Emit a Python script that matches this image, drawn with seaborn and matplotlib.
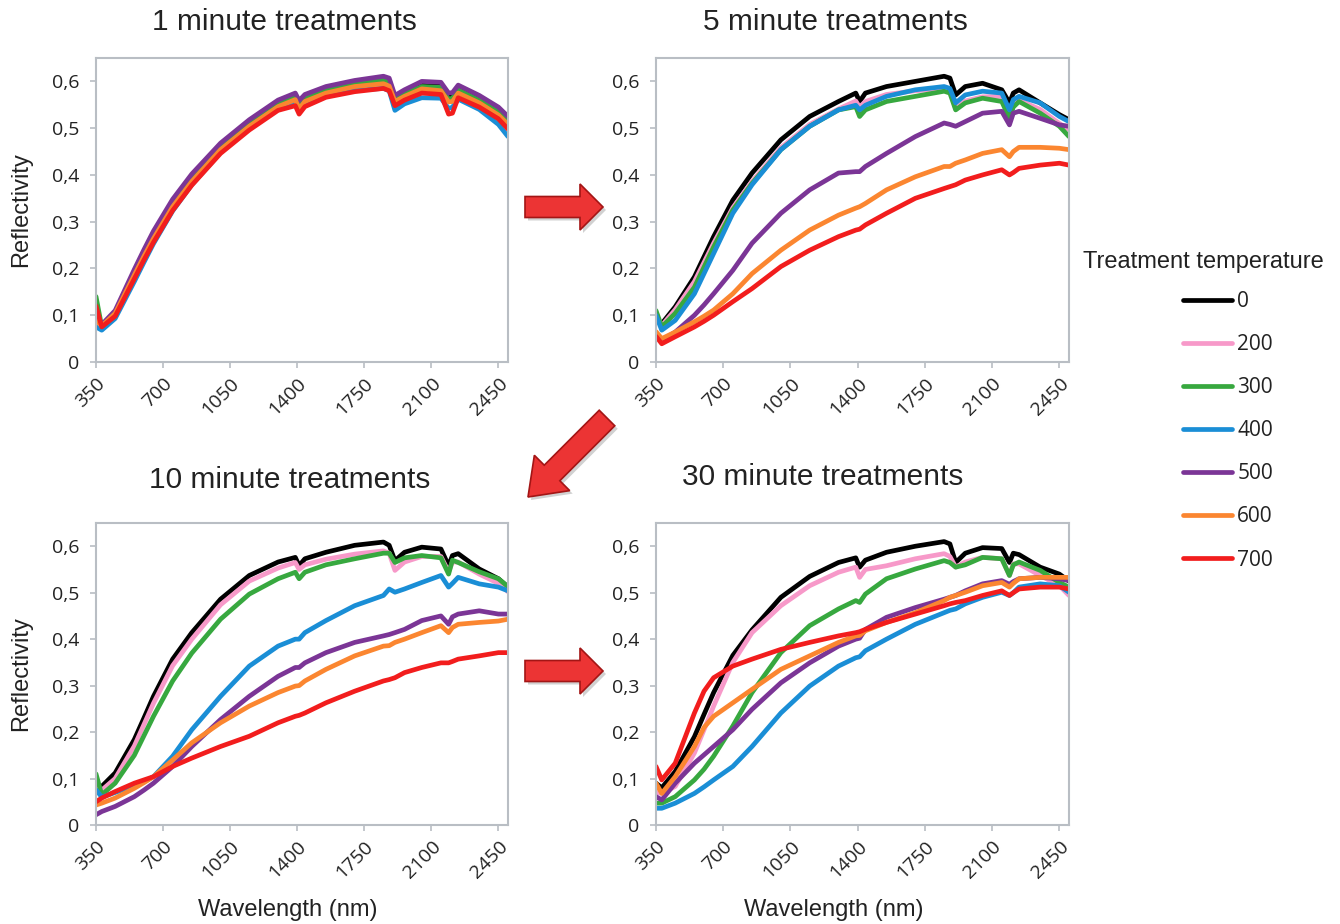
import numpy as np
import pandas as pd
import seaborn as sns
import matplotlib.pyplot as plt
from matplotlib.lines import Line2D
from matplotlib.patches import FancyArrow
from matplotlib.transforms import ScaledTranslation

# wavelength grid (nm) shared by all spectra
wavelength = [350, 380, 450, 550, 600, 650, 750, 850, 1000, 1150, 1300, 1390, 1410, 1440,
              1550, 1700, 1850, 1880, 1910, 1960, 2050, 2150, 2190, 2210, 2240, 2350, 2450, 2500]

temps = ['0', '200', '300', '400', '500', '600', '700']
colors = ['#000000', '#f799c9', '#37a83f', '#1a8ed6', '#7b3596', '#fb8630', '#f21d1d']

# 1 minute treatments
min1 = {
    '0':   [0.100, 0.075, 0.102, 0.190, 0.232, 0.272, 0.342, 0.396, 0.463, 0.513, 0.555, 0.570, 0.552, 0.567,
            0.585, 0.598, 0.607, 0.602, 0.565, 0.578, 0.594, 0.592, 0.568, 0.568, 0.585, 0.563, 0.536, 0.518],
    '200': [0.090, 0.074, 0.100, 0.186, 0.228, 0.267, 0.336, 0.390, 0.457, 0.507, 0.549, 0.563, 0.543, 0.559,
            0.578, 0.591, 0.598, 0.594, 0.560, 0.571, 0.585, 0.583, 0.558, 0.560, 0.578, 0.556, 0.530, 0.512],
    '300': [0.140, 0.075, 0.102, 0.190, 0.232, 0.272, 0.340, 0.394, 0.461, 0.511, 0.553, 0.568, 0.548, 0.564,
            0.583, 0.596, 0.603, 0.598, 0.562, 0.574, 0.589, 0.587, 0.562, 0.564, 0.582, 0.560, 0.535, 0.515],
    '400': [0.075, 0.068, 0.093, 0.172, 0.213, 0.253, 0.323, 0.379, 0.448, 0.499, 0.541, 0.556, 0.537, 0.551,
            0.569, 0.581, 0.585, 0.580, 0.538, 0.552, 0.565, 0.564, 0.542, 0.545, 0.562, 0.540, 0.508, 0.482],
    '500': [0.095, 0.080, 0.110, 0.198, 0.240, 0.280, 0.348, 0.402, 0.468, 0.518, 0.560, 0.575, 0.559, 0.572,
            0.589, 0.602, 0.611, 0.607, 0.570, 0.582, 0.600, 0.598, 0.575, 0.576, 0.592, 0.570, 0.545, 0.525],
    '600': [0.090, 0.077, 0.104, 0.186, 0.226, 0.264, 0.332, 0.386, 0.454, 0.504, 0.546, 0.561, 0.541, 0.557,
            0.575, 0.589, 0.595, 0.590, 0.557, 0.568, 0.584, 0.580, 0.556, 0.557, 0.575, 0.554, 0.528, 0.508],
    '700': [0.120, 0.075, 0.098, 0.178, 0.218, 0.256, 0.324, 0.378, 0.446, 0.496, 0.538, 0.548, 0.530, 0.546,
            0.566, 0.578, 0.585, 0.580, 0.548, 0.560, 0.575, 0.572, 0.530, 0.532, 0.565, 0.545, 0.520, 0.498],
}

# 5 minute treatments
min5 = {
    '0':   [0.090, 0.082, 0.118, 0.182, 0.225, 0.268, 0.346, 0.404, 0.475, 0.525, 0.557, 0.575, 0.557, 0.575,
            0.589, 0.600, 0.611, 0.607, 0.571, 0.589, 0.596, 0.582, 0.554, 0.575, 0.582, 0.554, 0.529, 0.518],
    '200': [0.100, 0.078, 0.112, 0.172, 0.213, 0.254, 0.330, 0.386, 0.458, 0.508, 0.541, 0.558, 0.545, 0.557,
            0.572, 0.580, 0.584, 0.580, 0.542, 0.558, 0.567, 0.568, 0.530, 0.553, 0.560, 0.540, 0.510, 0.497],
    '300': [0.110, 0.075, 0.104, 0.160, 0.203, 0.246, 0.325, 0.382, 0.454, 0.504, 0.539, 0.546, 0.525, 0.539,
            0.557, 0.568, 0.579, 0.575, 0.539, 0.554, 0.564, 0.557, 0.521, 0.545, 0.557, 0.532, 0.504, 0.482],
    '400': [0.100, 0.068, 0.089, 0.146, 0.189, 0.232, 0.318, 0.379, 0.454, 0.504, 0.539, 0.549, 0.539, 0.549,
            0.568, 0.582, 0.589, 0.585, 0.554, 0.571, 0.579, 0.575, 0.539, 0.561, 0.568, 0.554, 0.525, 0.514],
    '500': [0.060, 0.046, 0.064, 0.100, 0.122, 0.146, 0.196, 0.254, 0.318, 0.368, 0.404, 0.407, 0.407, 0.418,
            0.446, 0.482, 0.511, 0.508, 0.504, 0.514, 0.532, 0.536, 0.507, 0.532, 0.536, 0.521, 0.507, 0.504],
    '600': [0.065, 0.050, 0.064, 0.086, 0.098, 0.111, 0.146, 0.189, 0.239, 0.282, 0.314, 0.329, 0.332, 0.339,
            0.368, 0.396, 0.418, 0.418, 0.425, 0.432, 0.446, 0.454, 0.439, 0.450, 0.459, 0.459, 0.457, 0.454],
    '700': [0.055, 0.039, 0.054, 0.075, 0.087, 0.100, 0.129, 0.157, 0.204, 0.239, 0.268, 0.282, 0.284, 0.293,
            0.318, 0.350, 0.371, 0.375, 0.379, 0.389, 0.400, 0.411, 0.400, 0.405, 0.414, 0.421, 0.425, 0.421],
}

# 10 minute treatments
min10 = {
    '0':   [0.085, 0.083, 0.112, 0.184, 0.230, 0.277, 0.357, 0.414, 0.486, 0.537, 0.566, 0.576, 0.558, 0.573,
            0.587, 0.602, 0.609, 0.602, 0.569, 0.587, 0.598, 0.594, 0.558, 0.580, 0.584, 0.551, 0.530, 0.512],
    '200': [0.080, 0.075, 0.100, 0.170, 0.216, 0.262, 0.343, 0.400, 0.474, 0.525, 0.553, 0.565, 0.550, 0.560,
            0.572, 0.583, 0.590, 0.585, 0.548, 0.566, 0.578, 0.578, 0.545, 0.566, 0.566, 0.540, 0.520, 0.502],
    '300': [0.110, 0.065, 0.090, 0.150, 0.192, 0.234, 0.310, 0.370, 0.443, 0.497, 0.530, 0.544, 0.530, 0.544,
            0.560, 0.573, 0.585, 0.585, 0.565, 0.575, 0.580, 0.575, 0.540, 0.570, 0.565, 0.545, 0.530, 0.513],
    '400': [0.076, 0.060, 0.070, 0.085, 0.093, 0.104, 0.148, 0.205, 0.277, 0.342, 0.385, 0.400, 0.400, 0.414,
            0.440, 0.472, 0.494, 0.508, 0.501, 0.508, 0.522, 0.537, 0.512, 0.520, 0.533, 0.519, 0.512, 0.504],
    '500': [0.022, 0.029, 0.040, 0.061, 0.075, 0.090, 0.126, 0.169, 0.227, 0.277, 0.320, 0.339, 0.339, 0.349,
            0.371, 0.393, 0.407, 0.410, 0.414, 0.421, 0.440, 0.450, 0.432, 0.448, 0.454, 0.461, 0.454, 0.454],
    '600': [0.043, 0.047, 0.058, 0.079, 0.091, 0.104, 0.140, 0.177, 0.220, 0.256, 0.285, 0.299, 0.300, 0.310,
            0.335, 0.364, 0.385, 0.386, 0.393, 0.400, 0.414, 0.429, 0.414, 0.425, 0.432, 0.436, 0.439, 0.443],
    '700': [0.050, 0.058, 0.072, 0.090, 0.097, 0.104, 0.126, 0.144, 0.169, 0.191, 0.220, 0.234, 0.236, 0.241,
            0.263, 0.288, 0.310, 0.313, 0.317, 0.328, 0.339, 0.349, 0.349, 0.352, 0.357, 0.364, 0.371, 0.371],
}

# 30 minute treatments
min30 = {
    '0':   [0.090, 0.080, 0.115, 0.190, 0.238, 0.285, 0.365, 0.420, 0.490, 0.535, 0.565, 0.575, 0.555, 0.570,
            0.587, 0.600, 0.610, 0.605, 0.565, 0.585, 0.597, 0.595, 0.565, 0.585, 0.582, 0.555, 0.540, 0.525],
    '200': [0.070, 0.068, 0.083, 0.155, 0.205, 0.256, 0.350, 0.414, 0.472, 0.515, 0.544, 0.555, 0.533, 0.550,
            0.558, 0.573, 0.584, 0.578, 0.555, 0.566, 0.576, 0.573, 0.537, 0.562, 0.562, 0.537, 0.515, 0.494],
    '300': [0.047, 0.047, 0.061, 0.097, 0.120, 0.148, 0.213, 0.285, 0.371, 0.429, 0.465, 0.483, 0.479, 0.497,
            0.530, 0.551, 0.569, 0.565, 0.555, 0.560, 0.576, 0.573, 0.537, 0.560, 0.566, 0.548, 0.522, 0.512],
    '400': [0.036, 0.036, 0.047, 0.068, 0.082, 0.097, 0.126, 0.169, 0.241, 0.299, 0.342, 0.360, 0.362, 0.375,
            0.400, 0.432, 0.457, 0.462, 0.465, 0.476, 0.490, 0.501, 0.494, 0.500, 0.512, 0.519, 0.515, 0.501],
    '500': [0.061, 0.054, 0.090, 0.133, 0.151, 0.169, 0.205, 0.249, 0.306, 0.349, 0.385, 0.400, 0.402, 0.421,
            0.447, 0.468, 0.486, 0.490, 0.494, 0.504, 0.519, 0.526, 0.518, 0.524, 0.530, 0.533, 0.530, 0.526],
    '600': [0.090, 0.068, 0.104, 0.169, 0.210, 0.234, 0.263, 0.292, 0.335, 0.364, 0.393, 0.407, 0.408, 0.418,
            0.436, 0.457, 0.483, 0.490, 0.494, 0.501, 0.515, 0.522, 0.512, 0.520, 0.530, 0.533, 0.533, 0.533],
    '700': [0.126, 0.097, 0.133, 0.241, 0.288, 0.317, 0.342, 0.357, 0.378, 0.393, 0.407, 0.414, 0.416, 0.421,
            0.436, 0.454, 0.472, 0.476, 0.479, 0.483, 0.494, 0.504, 0.494, 0.500, 0.508, 0.512, 0.512, 0.508],
}

panels = [('1 minute treatments', min1), ('5 minute treatments', min5),
          ('10 minute treatments', min10), ('30 minute treatments', min30)]

x_ticks = [350, 700, 1050, 1400, 1750, 2100, 2450]
y_ticks = [0, 0.1, 0.2, 0.3, 0.4, 0.5, 0.6]
y_tick_labels = ['0', '0,1', '0,2', '0,3', '0,4', '0,5', '0,6']

W, H = 1340, 924
sns.set_theme(style='white')
plt.rcParams['font.family'] = ['Liberation Sans', 'DejaVu Sans']
txt_col = '#222222'

fig = plt.figure(figsize=(W / 100, H / 100), dpi=100)

# axes boxes in pixels: left, top, right, bottom
boxes = [(96, 58, 508, 362), (656, 58, 1069, 362), (96, 523, 508, 825), (656, 523, 1069, 825)]
title_pos = [(284, 22), (835, 22), (290, 480), (823, 477)]
palette = dict(zip(temps, colors))
spine_col = '#b9bec4'

for i, ((title, series), (x0, y0, x1, y1)) in enumerate(zip(panels, boxes)):
    ax = fig.add_axes([x0 / W, 1 - y1 / H, (x1 - x0) / W, (y1 - y0) / H])
    df = pd.DataFrame({'wavelength': np.tile(wavelength, len(temps)),
                       'reflectivity': np.concatenate([series[t] for t in temps]),
                       'temperature': np.repeat(temps, len(wavelength))})
    sns.lineplot(data=df, x='wavelength', y='reflectivity', hue='temperature',
                 hue_order=temps, palette=palette, estimator=None, errorbar=None,
                 linewidth=3.4, legend=False, ax=ax)
    ax.set_xlim(350, 2500)
    ax.set_ylim(0, 0.65)
    ax.set_xticks(x_ticks)
    ax.set_yticks(y_ticks)
    ax.set_yticklabels(y_tick_labels, fontfamily='Open Sans', color=txt_col)
    ax.set_xticklabels([str(v) for v in x_ticks], fontfamily='Open Sans', color=txt_col,
                       rotation=45, ha='right', va='top', rotation_mode='anchor')
    for lab in ax.get_xticklabels():
        lab.set_transform(lab.get_transform() + ScaledTranslation(0.05, 0, fig.dpi_scale_trans))
    ax.tick_params(axis='both', which='major', labelsize=14, length=4, width=1.2,
                   color=spine_col, direction='out', bottom=True, left=True)
    ax.tick_params(axis='y', pad=8)
    ax.tick_params(axis='x', pad=5)
    for sp in ax.spines.values():
        sp.set_color(spine_col)
        sp.set_linewidth(1.5)
    ax.set_xlabel('')
    ax.set_ylabel('')
    if i % 2 == 0:
        ax.set_ylabel('Reflectivity', fontsize=17, color=txt_col)
        ax.yaxis.set_label_coords(-0.155, 0.5)
    if i >= 2:
        ax.set_xlabel('Wavelength (nm)', fontsize=17, color=txt_col)
        ax.xaxis.set_label_coords(0.466 if i == 2 else 0.431, -0.245)
    tx, ty = title_pos[i]
    fig.text(tx / W, 1 - ty / H, title, fontsize=21.5, ha='center', va='center', color=txt_col)

# legend: title as its own text, entries below it
fig.text(1083 / W, 1 - 262 / H, 'Treatment temperature', fontsize=17, ha='left', va='center',
         color=txt_col)
handles = [Line2D([], [], color=c, lw=3.4) for c in colors]
leg = fig.legend(handles, temps, loc='upper left', bbox_to_anchor=(1183 / W, 1 - 291 / H),
                 frameon=False, prop={'family': 'Open Sans', 'size': 15}, borderpad=0,
                 borderaxespad=0, handlelength=2.35, handletextpad=0.25, labelspacing=1.06)
for t in leg.get_texts():
    t.set_color(txt_col)

# red arrows between panels (pixel coords -> inches)
def px(x, y):
    return x / 100, (H - y) / 100

def red_arrow(tail, tip, width, head_w, head_l):
    (tx0, ty0), (tx1, ty1) = px(*tail), px(*tip)
    shadow = FancyArrow(tx0 + 0.03, ty0 - 0.03, tx1 - tx0, ty1 - ty0, width=width / 100,
                        head_width=head_w / 100, head_length=head_l / 100,
                        length_includes_head=True, transform=fig.dpi_scale_trans,
                        facecolor='#000000', edgecolor='none', alpha=0.18)
    arrow = FancyArrow(tx0, ty0, tx1 - tx0, ty1 - ty0, width=width / 100,
                       head_width=head_w / 100, head_length=head_l / 100,
                       length_includes_head=True, transform=fig.dpi_scale_trans,
                       facecolor='#ec3434', edgecolor='#a31515', linewidth=1.2)
    fig.patches.extend([shadow, arrow])

red_arrow((525, 207), (603, 207), 21, 46, 23)
red_arrow((607, 418), (528, 497), 22, 50, 34)
red_arrow((525, 671), (603, 671), 21, 46, 23)

fig.savefig('out.png', dpi=100)
